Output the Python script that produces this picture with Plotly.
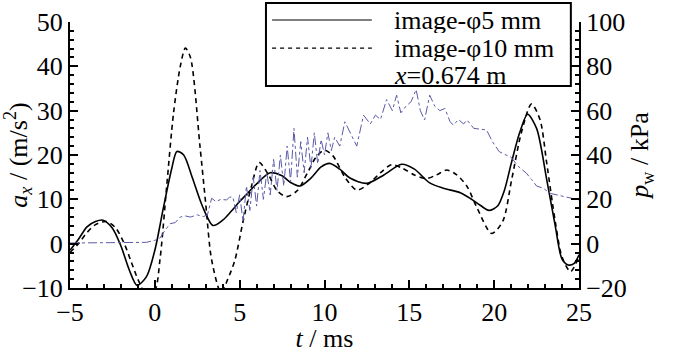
import plotly.graph_objects as go

# phi 5 mm (solid)
t5 = [-5, -4.5, -4, -3.5, -3.05, -2.5, -2, -1.5, -1.05, -0.5, 0, 0.5, 1.0, 1.3, 1.7, 2.2, 2.8, 3.43,
      4, 4.5, 5, 5.5, 6, 6.8, 7.5, 8, 8.55, 9.2, 9.8, 10.3, 10.9, 11.5, 12.5, 13.5, 14.55, 15.3,
      16.2, 17, 18, 18.6, 19.2, 19.7, 20.2, 20.6, 21, 21.5, 21.97, 22.5, 23.1, 23.6, 24, 24.36, 24.7, 25]
a5 = [-1.5, 1.0, 3.8, 5.0, 5.3, 3.5, -0.5, -6, -9.4, -7.5, -1.5, 8, 17, 20.8, 20, 15, 8.5, 4.1,
      5.3, 7.3, 9.5, 11.5, 13.5, 16, 15.3, 13.8, 13, 14.8, 17.3, 18.1, 16.8, 14.8, 13.6, 15.5, 17.9, 16.8,
      13.7, 12.5, 11.5, 10.2, 8.6, 7.5, 8.5, 12, 18, 25, 29.2, 26, 14.4, 4, -3.5, -4.8, -4.5, -2.5]

# phi 10 mm (dashed)
t10 = [-5, -4.5, -4, -3.5, -2.85, -2.3, -1.8, -1.4, -1.0, -0.5, 0, 0.3, 0.7, 1.1, 1.5, 1.8, 2.1, 2.66,
       3.0, 3.35, 3.9, 4.3, 4.72, 5.2, 5.7, 6.15, 6.7, 7.2, 7.77, 8.4, 9.0, 9.5, 10.0, 10.5, 11.2, 11.9,
       12.6, 13.3, 13.95, 14.6, 15.3, 16.0, 16.6, 17.2, 17.8, 18.4, 19.0, 19.85, 20.5, 21.03, 21.6, 22.2,
       22.7, 23.1, 23.6, 24.0, 24.5, 25]
a10 = [-2, 0, 2.5, 4.3, 5.0, 3.5, 0, -4, -8, -11.5, -10.5, -3.7, 13, 29.4, 40, 44.1, 42, 22,
       9, -3.7, -11, -8, -3.7, 5, 13, 18.3, 15.5, 12, 10.6, 12, 16, 19.5, 21.1, 19.8, 15, 12.1,
       13.5, 16, 17.8, 17, 15.5, 14.7, 15.5, 16.6, 15.5, 12.9, 8, 2.3, 5, 14.4, 25, 31.5,
       28, 18.1, 5, -3, -6.3, -2.9]

# wall pressure (dash-dot, right axis)
tp = [-5, -4, -3, -2, -1, -0.5, 0, 0.3, 0.6, 0.9, 1.2, 1.5, 1.8, 2.1, 2.5, 2.86, 3.1, 3.35, 3.6, 3.9, 4.23, 4.4,
      4.6, 4.8, 5.0, 5.2, 5.4, 5.6, 5.8, 6.0, 6.2, 6.4, 6.6, 6.8, 7.0, 7.2, 7.4, 7.6, 7.8, 8.0, 8.2, 8.4,
      8.6, 8.8, 9.0, 9.2, 9.4, 9.6, 9.8, 10.0, 10.2, 10.4, 10.6,
      10.9, 11.2, 11.5, 11.9, 12.3, 12.7, 13.0, 13.3, 13.66, 14.0, 14.25, 14.5, 14.8, 15.1, 15.4, 15.65,
      15.9, 16.2, 16.5, 16.8, 17.1, 17.4, 17.6, 17.9, 18.2, 18.4, 18.8, 19.2, 19.55, 19.9, 20.3, 20.7,
      21.0, 21.4, 21.9, 22.2, 22.5, 22.9, 23.3, 23.7, 24.1, 24.5, 25]
pw = [0.3, 0.3, 0.3, 0.3, 0.4, 0.6, 1.5, 2.5, 6, 9, 9.5, 12, 12.5, 12, 13, 12.2, 13, 20.5, 19, 20, 19.7, 21,
      21, 14, 22, 10, 26, 15, 30, 17, 33, 20, 32, 22, 38, 24, 40, 26, 44, 28, 52, 30,
      46, 32, 48, 34, 50, 36, 47, 40, 50, 42, 48,
      44, 55, 50, 44, 58, 54, 58, 56, 65, 60, 67, 59, 62, 64, 69.5, 60,
      55.8, 67, 62, 60, 61, 55, 53.5, 56, 54, 55.8, 52, 51.5, 51.3, 46, 41.5, 40,
      39, 35, 31.8, 29, 26, 25, 22.7, 22, 21.2, 20.5, 19.7]

legend_labels = ["image-φ5 mm", "image-φ10 mm", "<i>x</i>=0.674 m"]

FONT = "Liberation Serif, Times New Roman, Times, serif"
FS = 26

fig = go.Figure()
fig.add_trace(go.Scatter(x=tp, y=pw, yaxis="y2", mode="lines", showlegend=False,
                         line=dict(color="#5a5aa8", width=1, dash="dashdot")))
fig.add_trace(go.Scatter(x=t5, y=a5, mode="lines", name=legend_labels[0], showlegend=False,
                         line=dict(color="black", width=1.6, shape="spline", smoothing=0.8)))
fig.add_trace(go.Scatter(x=t10, y=a10, mode="lines", name=legend_labels[1], showlegend=False,
                         line=dict(color="black", width=1.6, dash="5px,4px", shape="spline", smoothing=0.8)))

axis_common = dict(showline=True, linecolor="black", linewidth=2, ticks="inside", ticklen=8,
                   tickwidth=2, tickcolor="black", showgrid=False, zeroline=False,
                   tickfont=dict(family=FONT, size=FS, color="black"))

# manual legend box (paper coordinates)
shapes = [
    dict(type="rect", xref="paper", yref="paper", x0=0.385, x1=0.984, y0=0.759, y1=1.071,
         line=dict(color="black", width=2), fillcolor="white", layer="above"),
    dict(type="line", xref="paper", yref="paper", x0=0.397, x1=0.593, y0=1.0075, y1=1.0075,
         line=dict(color="black", width=1.2), layer="above"),
    dict(type="line", xref="paper", yref="paper", x0=0.397, x1=0.593, y0=0.902, y1=0.902,
         line=dict(color="black", width=1.2, dash="4px,4px"), layer="above"),
]
annotations = []
for lab, yy in zip(legend_labels, [1.0075, 0.902, 0.80]):
    annotations.append(dict(text=lab, xref="paper", yref="paper", x=0.632, y=yy,
                            xanchor="left", yanchor="middle", showarrow=False, height=26,
                            font=dict(family=FONT, size=FS, color="black")))

fig.update_layout(
    width=700, height=353,
    margin=dict(l=70, r=121, t=22, b=65, autoexpand=False),
    plot_bgcolor="white", paper_bgcolor="white",
    font=dict(family=FONT, size=FS, color="black"),
    showlegend=False,
    shapes=shapes, annotations=annotations,
    xaxis=dict(range=[-5, 25], dtick=5, tick0=0, automargin=True,
               minor=dict(dtick=1, ticks="inside", ticklen=4, tickwidth=1.5, tickcolor="black"),
               title=dict(text="<i>t</i> / ms", font=dict(family=FONT, size=FS), standoff=4),
               **axis_common),
    yaxis=dict(range=[-10, 50], dtick=10, automargin=False,
               minor=dict(dtick=2, ticks="inside", ticklen=4, tickwidth=1.5, tickcolor="black"),
               title=dict(text="<i>a</i><sub><i>x</i></sub> / (m/s<sup>2</sup>)",
                          font=dict(family=FONT, size=FS), standoff=0),
               **axis_common),
    yaxis2=dict(range=[-20, 100], dtick=20, overlaying="y", side="right", automargin=False,
                minor=dict(dtick=4, ticks="inside", ticklen=4, tickwidth=1.5, tickcolor="black"),
                title=dict(text="<i>p</i><sub>w</sub> / kPa", font=dict(family=FONT, size=FS), standoff=4),
                **axis_common),
)

fig.write_html("out.html")
